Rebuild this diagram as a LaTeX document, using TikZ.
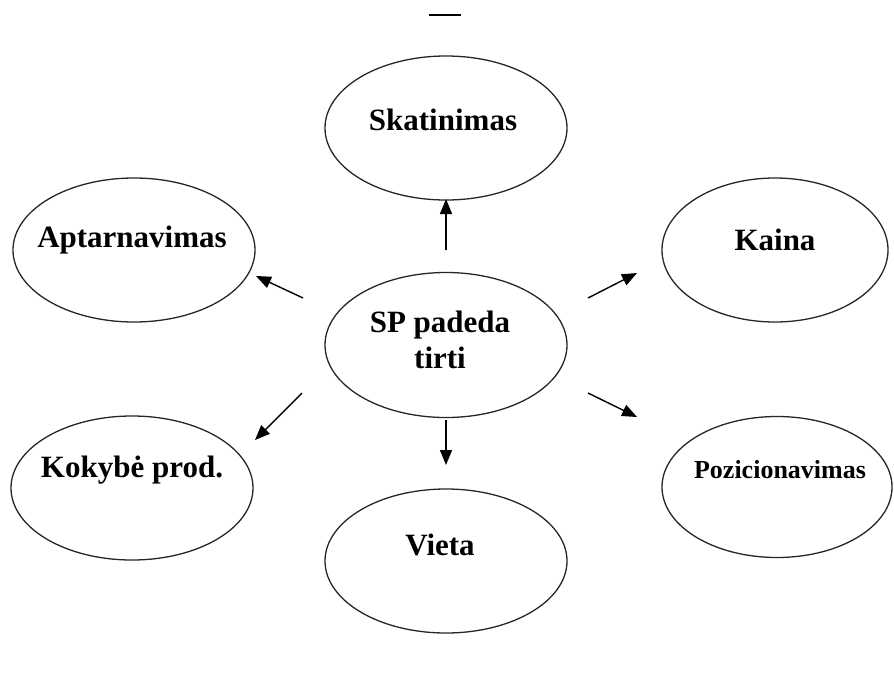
\documentclass[tikz,border=0pt]{standalone}
\usepackage{fontspec}
\setmainfont{Liberation Serif}
\usetikzlibrary{shapes.geometric, arrows.meta}

\begin{document}
\begin{tikzpicture}[x=1pt, y=-1pt, >={Triangle[length=15pt, width=12pt]},
    oval/.style={draw=black!85, line width=1.3pt, ellipse, minimum width=242pt, minimum height=144pt, inner sep=0pt},
    word/.style={font=\fontsize{31}{36}\selectfont\bfseries, inner sep=0pt, align=center},
    arr/.style={->, line width=1.4pt}]
    \useasboundingbox (0,0) rectangle (894,673);
    % ovalai
    \node[oval] (skat) at (446,128) {};
    \node[oval] (apt) at (134,250) {};
    \node[oval, minimum width=226pt] (kaina) at (775,250) {};
    \node[oval, minimum height=145pt] (sp) at (446,345) {};
    \node[oval] (kok) at (132,488) {};
    \node[oval, minimum width=230pt, minimum height=141pt] (poz) at (777,487) {};
    \node[oval] (vieta) at (446,561) {};
    % tekstai
    \node[word] (skatT) at (443,120) {Skatinimas};
    \node[word] (aptT) at (132,240) {Aptarnavimas};
    \node[word] (kainaT) at (775,240) {Kaina};
    \node[word] (spT) at (440,340) {SP padeda\\tirti};
    \node[word] (kokT) at (132,470) {Kokybė prod.};
    \node[word, font=\fontsize{26}{30}\selectfont\bfseries] (pozT) at (780,470) {Pozicionavimas};
    \node[word] (vietaT) at (440,545) {Vieta};
    % rodykliu galai
    \coordinate (u1) at (446,250); \coordinate (u2) at (446,199);
    \coordinate (d1) at (446,420); \coordinate (d2) at (446,465);
    \coordinate (ul1) at (303,298); \coordinate (ul2) at (256,276);
    \coordinate (ur1) at (588,298); \coordinate (ur2) at (637,273);
    \coordinate (dr1) at (588,393); \coordinate (dr2) at (637,417);
    \coordinate (dl1) at (302,393); \coordinate (dl2) at (255,440);
    \draw[arr] (u1) -- (u2);
    \draw[arr] (d1) -- (d2);
    \draw[arr] (ul1) -- (ul2);
    \draw[arr] (ur1) -- (ur2);
    \draw[arr] (dr1) -- (dr2);
    \draw[arr] (dl1) -- (dl2);
    % bruksnys virsuje
    \draw[line width=2pt] (429,15) -- (461,15);
\end{tikzpicture}
\end{document}
